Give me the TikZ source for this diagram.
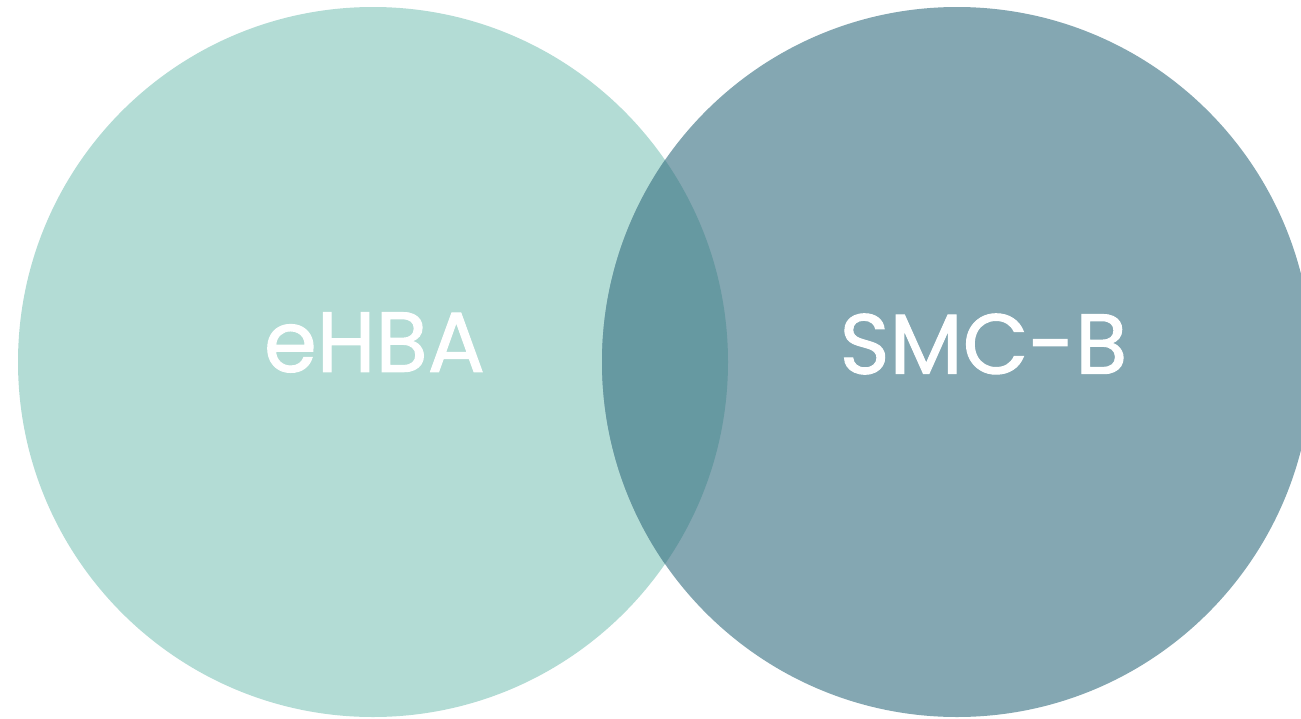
\documentclass[tikz,border=0pt]{standalone}
\usepackage{fontspec}
\setmainfont{Poppins}
\newfontfamily\lblfont[FakeBold=1.2]{Poppins}
\definecolor{leftc}{HTML}{B3DCD5}
\definecolor{rightc}{HTML}{84A7B2}
\definecolor{overc}{HTML}{6699A1}
\begin{document}
\begin{tikzpicture}[x=1pt,y=-1pt,
  venn/.style={circle, inner sep=0pt, minimum size=710pt, draw=none},
  lbl/.style={text=white, font=\lblfont\fontsize{85}{90}\selectfont, inner sep=0pt}]
\useasboundingbox (0,0) rectangle (1301,718);
\node[venn, fill=leftc] (L) at (373,362) {};
\node[venn, fill=rightc] (R) at (957,362) {};
\begin{scope}
  \clip (373,362) circle[radius=355];
  \fill[overc] (957,362) circle[radius=355];
\end{scope}
\node[lbl] (tL) at (374.5,342.5) {eHBA};
\node[lbl] (tR) at (983.5,344) {SMC-B};
\end{tikzpicture}
\end{document}
